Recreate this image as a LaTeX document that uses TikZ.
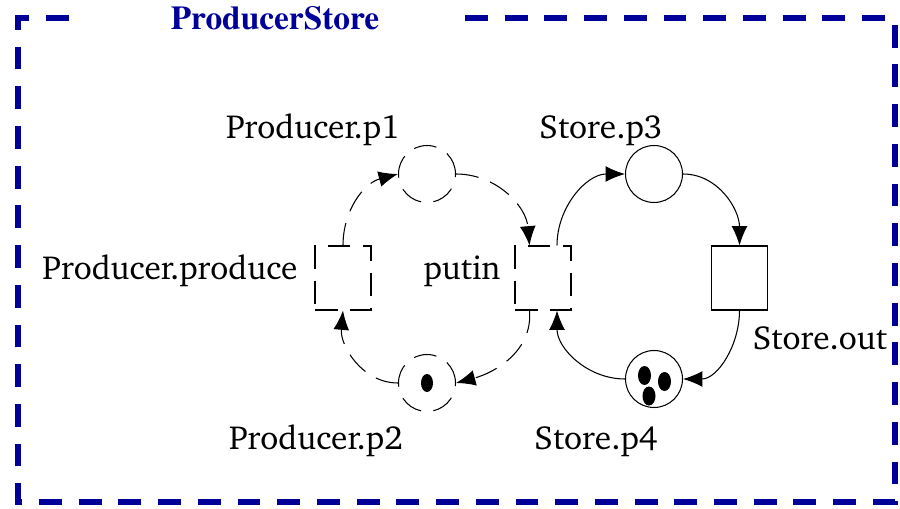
\documentclass[tikz,border=0pt]{standalone}
\usepackage[T1]{fontenc}
\usepackage{charter}
\usetikzlibrary{arrows.meta,calc}
\definecolor{framecol}{RGB}{0,0,153}
\tikzset{
  place/.style={shape=circle,draw,line width=0.6pt,minimum size=1.14cm,inner sep=0pt},
  trans/.style={shape=rectangle,draw,line width=0.6pt,minimum width=1.12cm,minimum height=1.28cm,inner sep=0pt},
  dashy/.style={dash pattern=on 13pt off 7pt},
  arc/.style={line width=0.6pt,-{Latex[length=11pt,width=9pt]}},
  netname/.style={font=\fontsize{19}{21}\selectfont,inner sep=0pt,anchor=base},
}

\begin{document}
\begin{tikzpicture}[x=0.02cm,y=0.02cm]
\useasboundingbox (0,0) rectangle (900,508);

% The frame and its title...
\draw[framecol,line width=3.4pt,dash pattern=on 13pt off 9.6pt] (465,490) -- (895,490) -- (895,6) -- (18,6) -- (18,490) -- (85,490);
\node (title) at (275,490) [font=\fontfamily{ptm}\bfseries\fontsize{19}{21}\selectfont,text=framecol] {ProducerStore};

% Draw the nodes...
\node (p1) at (427,334) [place,dashy] {};
\node (p2) at (427,125) [place,dashy] {};
\node (produce) at (343,230) [trans,dashy] {};
\node (putin) at (543,230) [trans,dashy] {};
\node (p3) at (654,334) [place] {};
\node (p4) at (654,129) [place] {};
\node (out) at (739.5,230) [trans] {};

% Tokens...
\fill (p2) ellipse [x radius=6, y radius=9];
\fill ($(p4)+(-9.5,3.5)$) ellipse [x radius=6.5, y radius=9.5];
\fill ($(p4)+(10.5,-2.5)$) ellipse [x radius=6.5, y radius=9.5];
\fill ($(p4)+(-5,-17)$) ellipse [x radius=6.5, y radius=9.5];

% Names...
\node (p1name) at (313,369) [netname] {Producer.p1};
\node (p2name) at (316,59) [netname] {Producer.p2};
\node (producename) at (170,229) [netname] {Producer.produce};
\node (putinname) at (462,229) [netname] {putin};
\node (p3name) at (601,369) [netname] {Store.p3};
\node (p4name) at (596,59) [netname] {Store.p4};
\node (outname) at (820,159) [netname] {Store.out};

% Draw the edges...
\draw[arc,dashy] (produce.north) to[out=90,in=195] (p1.west);
\draw[arc,dashy] (p1.east) to[out=0,in=95] ([xshift=-0.27cm]putin.north);
\draw[arc,dashy] ([xshift=-0.27cm]putin.south) to[out=-85,in=15] (p2.east);
\draw[arc,dashy] (p2.west) to[out=180,in=-95] (produce.south);
\draw[arc] ([xshift=0.28cm]putin.north) to[out=90,in=180] (p3.west);
\draw[arc] (p3.east) to[out=0,in=90] (out.north);
\draw[arc] (out.south) to[out=-90,in=0] (p4.east);
\draw[arc] (p4.west) to[out=180,in=-90] ([xshift=0.28cm]putin.south);

\end{tikzpicture}
\end{document}
